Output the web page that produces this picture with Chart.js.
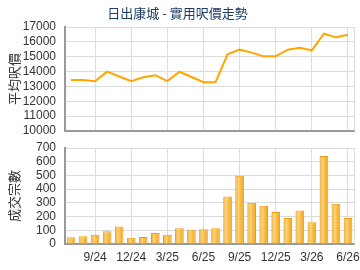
<!DOCTYPE html>
<html>
<head>
<meta charset="utf-8">
<script src="https://cdn.jsdelivr.net/npm/chart.js@4/dist/chart.umd.min.js"></script>
<style>
  html, body { margin: 0; padding: 0; background: #fff; overflow: hidden; }
  #wrap { position: relative; width: 360px; height: 270px; overflow: hidden; }
  #top { position: absolute; left: 0; top: 0; }
  #bottom { position: absolute; left: 0; top: 136px; }
</style>
</head>
<body>
<div id="wrap">
  <canvas id="top" width="360" height="136"></canvas>
  <canvas id="bottom" width="360" height="134"></canvas>
</div>
<script>
const months = ['7/24','8/24','9/24','10/24','11/24','12/24','1/25','2/25','3/25','4/25','5/25','6/25',
                '7/25','8/25','9/25','10/25','11/25','12/25','1/26','2/26','3/26','4/26','5/26','6/26'];
const avgPrice = [13430, 13430, 13360, 14000, 13670, 13360, 13620, 13760, 13360, 13990, 13640, 13290,
                  13290, 15170, 15480, 15280, 15030, 15030, 15480, 15610, 15430, 16550, 16310, 16490];
const deals = [49, 56, 68, 93, 127, 46, 51, 80, 68, 115, 105, 107,
               115, 346, 498, 300, 278, 234, 190, 244, 159, 641, 293, 190];
const title = '日出康城 - 實用呎價走勢';
const priceAxisTitle = '平均呎價';
const dealAxisTitle = '成交宗數';

const LEFT = 65;
const BAR_PCT = 0.72;
const fontTick = { family: 'Liberation Sans, Arial', size: 12 };
const fontCJK = { family: '"Noto Sans CJK TC", sans-serif', size: 13 };
const gridCol = '#dcdcdc';

// vertical grid only on the labelled quarter months
const quarterGrid = (ctx) => (ctx.index % 3 === 2 ? gridCol : 'rgba(0,0,0,0)');

// horizontal shading across each bar, like the original's cylinder look
function barFill(ctx) {
    const chart = ctx.chart, xs = chart.scales.x;
    if (!xs || ctx.type !== 'data') return '#f8b534';
    const cx = xs.getPixelForValue(ctx.dataIndex);
    const w = (xs.width / months.length) * BAR_PCT;
    if (!isFinite(cx) || !isFinite(w) || w <= 0) return '#f8b534';
    const g = chart.ctx.createLinearGradient(cx - w / 2, 0, cx + w / 2, 0);
    g.addColorStop(0, '#efa21c');
    g.addColorStop(0.35, '#fdd37a');
    g.addColorStop(0.6, '#f9bd45');
    g.addColorStop(1, '#f0a524');
    return g;
}

const rightEdge = {
    id: 'rightEdge',
    afterDraw(chart) {
        const a = chart.chartArea, c = chart.ctx;
        c.save();
        c.strokeStyle = gridCol;
        c.lineWidth = 1;
        c.beginPath();
        c.moveTo(a.right + 0.5, a.top);
        c.lineTo(a.right + 0.5, a.bottom);
        c.stroke();
        c.restore();
    }
};

function yAxis(min, max, step, label) {
    return {
        min: min, max: max,
        ticks: { stepSize: step, color: '#333', font: fontTick, padding: 9, autoSkip: false,
                 callback: (v) => String(v) },
        grid: { color: gridCol, drawTicks: false },
        border: { color: '#999', width: 2 },
        title: { display: true, text: label, color: '#333', font: fontCJK, padding: { top: 5, bottom: 0 } },
        afterFit(scale) {
            scale.width = LEFT - 1;
            scale.paddingTop = 0;
            scale.paddingBottom = 0;
        }
    };
}

function xAxis(showLabels, h) {
    return {
        offset: true,
        ticks: {
            display: showLabels,
            color: '#333', font: fontTick, padding: 6,
            autoSkip: false, maxRotation: 0,
            callback: (v, i) => (i % 3 === 2 ? months[i] : '')
        },
        grid: { offset: false, color: quarterGrid, drawTicks: false },
        border: { color: '#999', width: 2 },
        afterFit(scale) {
            scale.height = h;
            scale.paddingLeft = 0;
            scale.paddingRight = 0;
        }
    };
}

new Chart(document.getElementById('top'), {
    type: 'line',
    data: {
        labels: months,
        datasets: [{
            data: avgPrice,
            borderColor: '#ffa500',
            borderWidth: 2,
            pointRadius: 0,
            tension: 0,
            fill: false
        }]
    },
    options: {
        responsive: false,
        animation: false,
        layout: { padding: { left: 1, right: 6, top: 0, bottom: 0 } },
        plugins: {
            legend: { display: false },
            tooltip: { enabled: false },
            title: {
                display: true,
                text: title,
                color: '#1c3c64',
                font: { family: '"Noto Sans CJK TC", sans-serif', size: 13, weight: 'normal' },
                padding: { top: 5, bottom: 6.5 }
            }
        },
        scales: {
            x: xAxis(false, 5),
            y: yAxis(10000, 17000, 1000, priceAxisTitle)
        }
    },
    plugins: [rightEdge]
});

new Chart(document.getElementById('bottom'), {
    type: 'bar',
    data: {
        labels: months,
        datasets: [{
            data: deals,
            backgroundColor: barFill,
            borderColor: '#eb9c12',
            borderWidth: 1,
            barPercentage: BAR_PCT,
            categoryPercentage: 1
        }]
    },
    options: {
        responsive: false,
        animation: false,
        layout: { padding: { left: 1, right: 6, top: 12, bottom: 0 } },
        plugins: {
            legend: { display: false },
            tooltip: { enabled: false }
        },
        scales: {
            x: xAxis(true, 26),
            y: yAxis(0, 700, 100, dealAxisTitle)
        }
    },
    plugins: [rightEdge]
});
</script>
</body>
</html>
